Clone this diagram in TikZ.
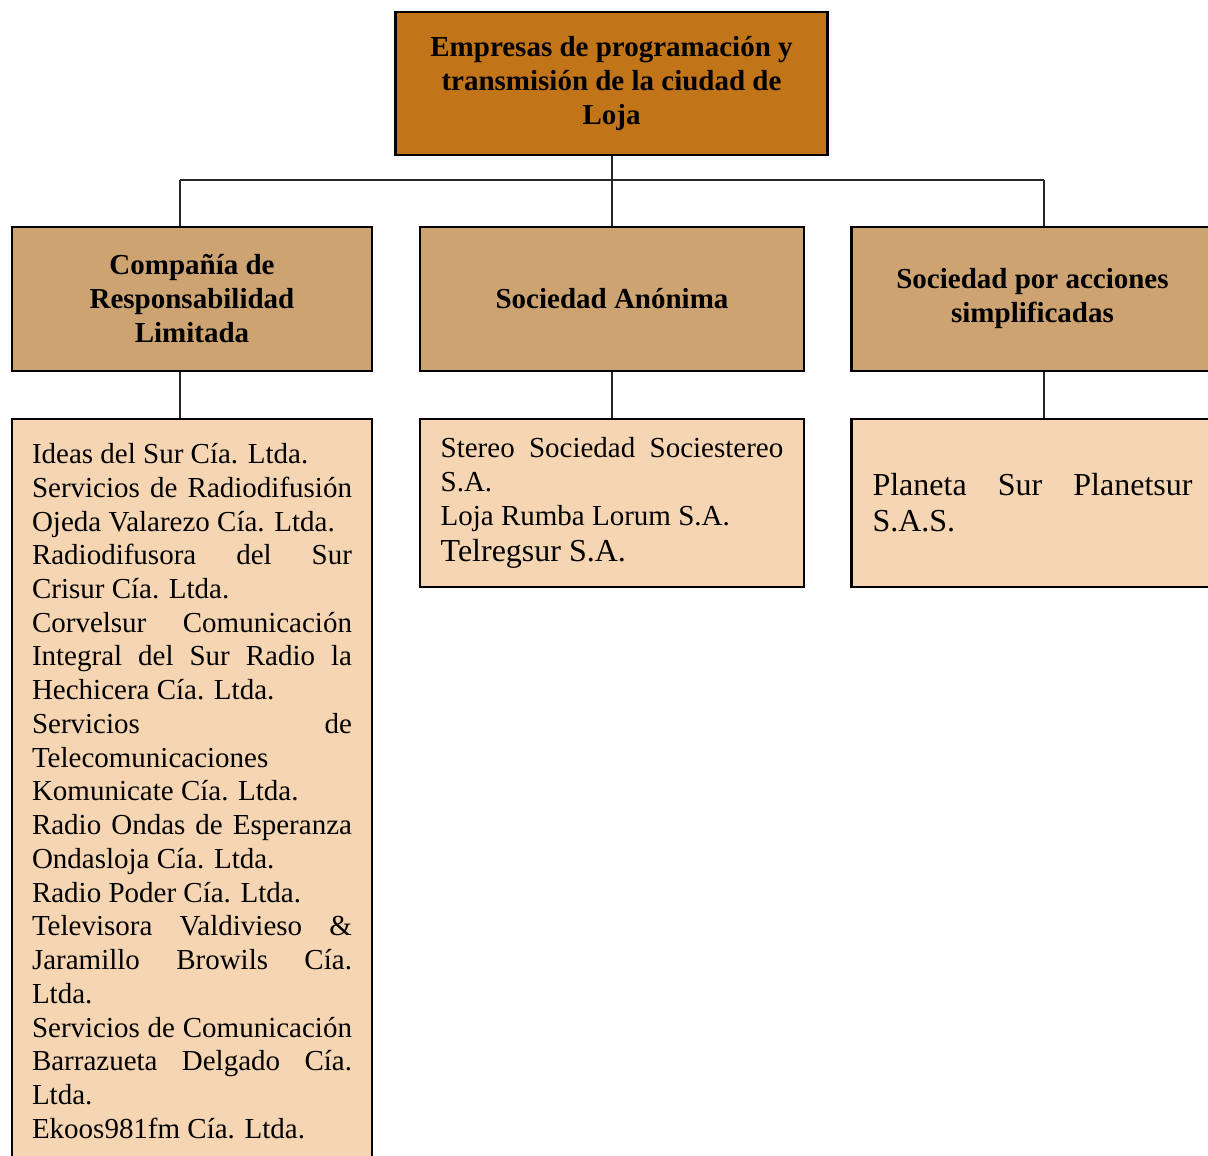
\documentclass[tikz,border=0pt]{standalone}
\usepackage{fontspec}
\setmainfont{Liberation Serif}
\setlength{\parindent}{0pt}
\hyphenpenalty=10000
\exhyphenpenalty=10000
\definecolor{topfill}{RGB}{194,117,24}
\definecolor{headfill}{RGB}{205,164,113}
\definecolor{listfill}{RGB}{246,213,179}

\begin{document}
\begin{tikzpicture}[x=0.75pt,y=0.75pt,yscale=-1,xscale=1,
  box/.style={draw=black, line width=2.2pt, inner sep=0pt, align=center},
  headtxt/.style={font=\bfseries\fontsize{21.75pt}{25.5pt}\selectfont},
  listtxt/.style={font=\fontsize{21.75pt}{25.3pt}\selectfont, align=justify},
  link/.style={draw=black!85, line width=1.1pt}]
\useasboundingbox (0,0) rectangle (1208,1156);
\clip (0,0) rectangle (1208,1156);

% Top Node
\node [box, headtxt, fill=topfill, minimum width=324pt, minimum height=107.25pt] (top) at (611.5,83.5) {Empresas de programación y\\transmisión de la ciudad de\\Loja};

% Head Nodes
\node [box, headtxt, fill=headfill, minimum width=270pt, minimum height=108pt] (crl) at (192,299) {Compañía de\\Responsabilidad\\Limitada};
\node [box, headtxt, fill=headfill, minimum width=288pt, minimum height=108pt] (sa) at (612,299) {Sociedad Anónima};
\node [box, headtxt, fill=headfill, minimum width=271pt, minimum height=108pt] (sas) at (1032.5,299) {Sociedad por acciones\\simplificadas};

% List Nodes
\node [box, listtxt, fill=listfill, minimum width=270pt, minimum height=558pt, text width=240pt] (crllist) at (192,791) {Ideas del Sur Cía. Ltda.\par
Servicios de Radiodifusión\linebreak Ojeda Valarezo Cía. Ltda.\par
Radiodifusora del Sur\linebreak Crisur Cía. Ltda.\par
Corvelsur Comunicación\linebreak Integral del Sur Radio la\linebreak Hechicera Cía. Ltda.\par
Servicios de\linebreak Telecomunicaciones\newline Komunicate Cía. Ltda.\par
Radio Ondas de Esperanza\linebreak Ondasloja Cía. Ltda.\par
Radio Poder Cía. Ltda.\par
Televisora Valdivieso \&\linebreak Jaramillo Browils Cía.\linebreak Ltda.\par
Servicios de Comunicación\linebreak Barrazueta Delgado Cía.\linebreak Ltda.\par
Ekoos981fm Cía. Ltda.};
\node [box, listtxt, fill=listfill, minimum width=288pt, minimum height=126pt, text width=257pt] (salist) at (612,503) {Stereo Sociedad Sociestereo\linebreak S.A.\par
Loja Rumba Lorum S.A.\par
{\fontsize{24pt}{27pt}\selectfont Telregsur S.A.\par}};
\node [box, listtxt, fill=listfill, minimum width=271pt, minimum height=126pt, text width=240pt, font=\fontsize{24pt}{27pt}\selectfont] (saslist) at (1032.5,503) {Planeta Sur Planetsur\linebreak S.A.S.};

%Straight Lines
\coordinate (jl) at (180,180);
\coordinate (jr) at (1044,180);
\draw [link] (jl) -- (jr);
\draw [link] (sa.north |- top.south) -- (sa.north);
\draw [link] (jl) -- (jl |- crl.north);
\draw [link] (jr) -- (jr |- sas.north);
\draw [link] (jl |- crl.south) -- (jl |- crllist.north);
\draw [link] (sa.south) -- (salist.north);
\draw [link] (jr |- sas.south) -- (jr |- saslist.north);

\end{tikzpicture}
\end{document}
